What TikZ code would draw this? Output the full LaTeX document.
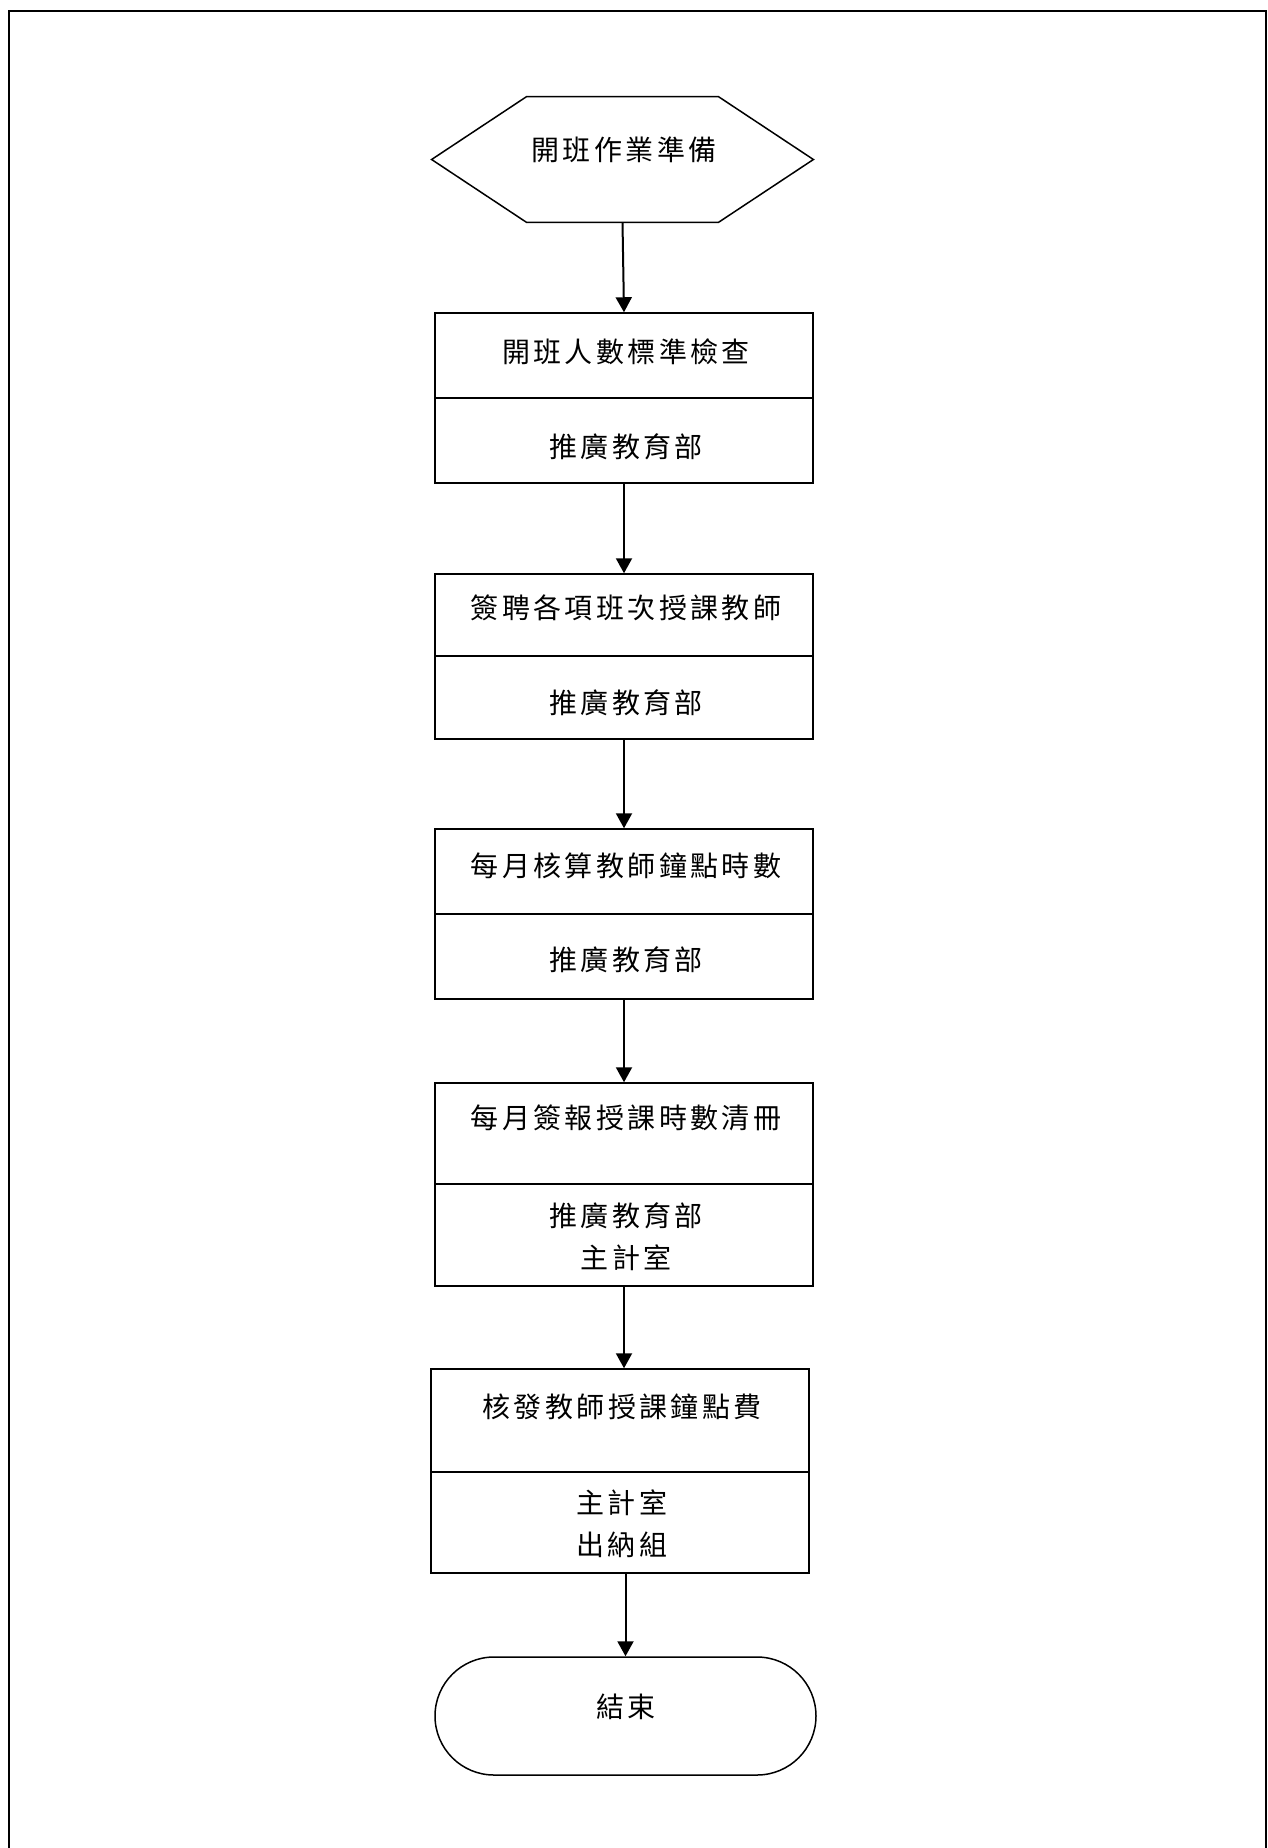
\documentclass[tikz,border=0pt]{standalone}
\usepackage{fontspec}
\newfontfamily\cjk[LetterSpace=12]{Noto Sans CJK TC}
\usetikzlibrary{arrows.meta}
\begin{document}
\begin{tikzpicture}[x=0.5pt,y=-0.5pt,
  boxnode/.style={draw, line width=0.75pt, inner sep=0pt, minimum width=189pt},
  txt/.style={inner sep=0pt, align=center, font=\cjk\fontsize{14pt}{21pt}\selectfont},
  flow/.style={line width=1pt, -{Triangle[width=8pt,length=7.5pt]}},
  divider/.style={line width=0.75pt},
  frame/.style={line width=1.2pt}]
\useasboundingbox (0,0) rectangle (1268,1848);
% outer frame
\coordinate (fbl) at (9,1848);
\coordinate (ftl) at (9,11);
\coordinate (ftr) at (1266,11);
\coordinate (fbr) at (1266,1848);
\draw[frame] (fbl) -- (ftl) -- (ftr) -- (fbr);

% start hexagon
\node[inner sep=0pt, minimum width=190.5pt, minimum height=62.5pt] (hex) at (622.5,159.5) {};
\draw[line width=0.75pt] (hex.west) -- ([xshift=47.5pt]hex.north west) -- ([xshift=-47.5pt]hex.north east)
  -- (hex.east) -- ([xshift=-47.5pt]hex.south east) -- ([xshift=47.5pt]hex.south west) -- cycle;
\node[txt] (hext) at (624,150) {開班作業準備};

% box 1
\node[boxnode, minimum height=85pt] (b1) at (624,398) {};
\draw[divider] (b1.west) -- (b1.east);
\node[txt] (b1t) at (626,352) {開班人數標準檢查};
\node[txt] (b1d) at (626,447) {推廣教育部};

% box 2
\node[boxnode, minimum height=82.5pt] (b2) at (624,656.5) {};
\draw[divider] ([yshift=0.25pt]b2.west) -- ([yshift=0.25pt]b2.east);
\node[txt] (b2t) at (626,608) {簽聘各項班次授課教師};
\node[txt] (b2d) at (626,703) {推廣教育部};

% box 3
\node[boxnode, minimum height=85pt] (b3) at (624,914) {};
\draw[divider] (b3.west) -- (b3.east);
\node[txt] (b3t) at (626,866) {每月核算教師鐘點時數};
\node[txt] (b3d) at (626,960) {推廣教育部};

% box 4
\node[boxnode, minimum height=101.5pt] (b4) at (624,1184.5) {};
\draw[divider] ([yshift=0.25pt]b4.west) -- ([yshift=0.25pt]b4.east);
\node[txt] (b4t) at (626,1118) {每月簽報授課時數清冊};
\node[txt] (b4d) at (626,1237) {推廣教育部\\主計室};

% box 5
\node[boxnode, minimum height=102pt] (b5) at (620,1471) {};
\draw[divider] ([yshift=-0.5pt]b5.west) -- ([yshift=-0.5pt]b5.east);
\node[txt] (b5t) at (622,1407) {核發教師授課鐘點費};
\node[txt] (b5d) at (622,1524) {主計室\\出納組};

% terminal
\node[draw, line width=0.75pt, inner sep=0pt, minimum width=190.5pt, minimum height=59pt, rounded corners=29.5pt] (end) at (625.5,1716) {};
\node[txt] (endt) at (626,1707) {結束};

% connectors
\draw[flow] (hex.south) -- (b1.north);
\draw[flow] (b1.south) -- (b2.north);
\draw[flow] (b2.south) -- (b3.north);
\draw[flow] (b3.south) -- (b4.north);
\draw[flow] (b4.south) -- (b4.south |- b5.north);
\draw[flow] (end.north |- b5.south) -- (end.north);
\end{tikzpicture}
\end{document}
